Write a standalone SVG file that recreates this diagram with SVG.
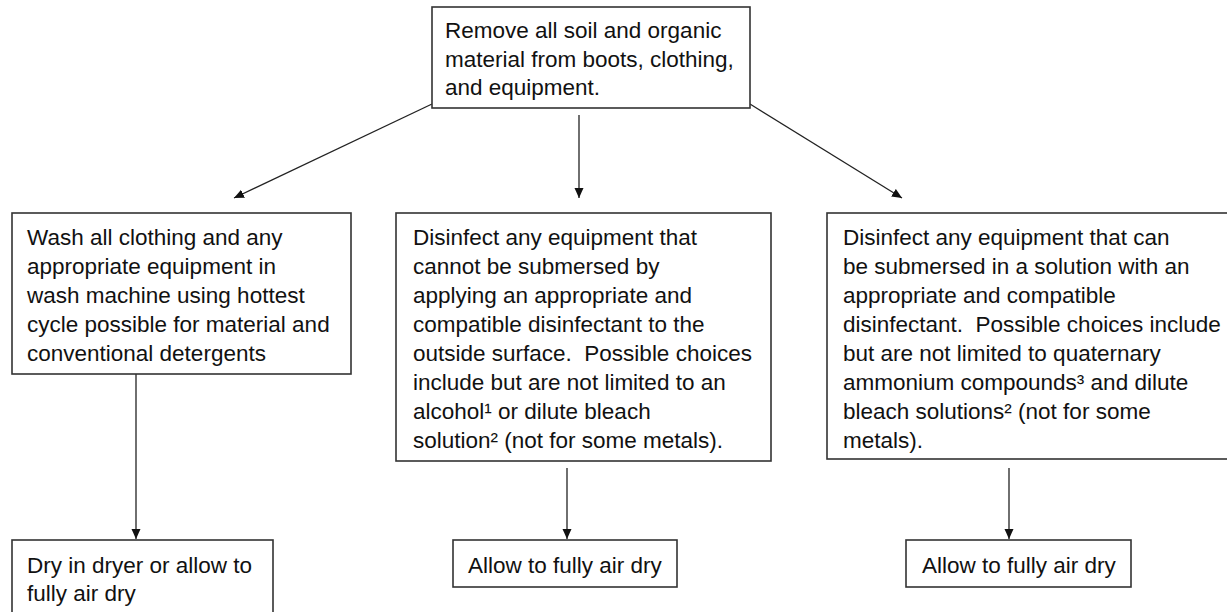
<svg xmlns="http://www.w3.org/2000/svg" width="1227" height="612" viewBox="0 0 1227 612">
<defs>
<marker id="ah" markerUnits="userSpaceOnUse" markerWidth="10" markerHeight="10" viewBox="0 0 10 10" refX="10" refY="5" orient="auto">
<path d="M0,0.5 L10,5 L0,9.5 Z" fill="#111"/>
</marker>
<style>
.box{fill:#fff;stroke:#333;stroke-width:1.6}
.t{font-family:"Liberation Sans",Arial,sans-serif;font-size:22.5px;fill:#111;white-space:pre}
.c{stroke:#222;stroke-width:1.3;fill:none;marker-end:url(#ah)}
</style>
</defs>
<rect width="1227" height="612" fill="#fff"/>
<g id="connectors">
<line class="c" x1="432" y1="104" x2="234" y2="198"/>
<line class="c" x1="579" y1="115" x2="579" y2="198"/>
<line class="c" x1="750" y1="104" x2="902" y2="198"/>
<line class="c" x1="136" y1="374" x2="136" y2="539"/>
<line class="c" x1="567" y1="468" x2="567" y2="539"/>
<line class="c" x1="1009" y1="468" x2="1009" y2="539"/>
</g>
<g id="n-remove">
<rect class="box" x="432" y="7" width="318" height="101"/>
<text class="t" x="445" y="38">Remove all soil and organic</text>
<text class="t" x="445" y="66.5">material from boots, clothing,</text>
<text class="t" x="445" y="95">and equipment.</text>
</g>
<g id="n-wash">
<rect class="box" x="12" y="213" width="339" height="161"/>
<text class="t" x="27" y="245">Wash all clothing and any</text>
<text class="t" x="27" y="274">appropriate equipment in</text>
<text class="t" x="27" y="303">wash machine using hottest</text>
<text class="t" x="27" y="332">cycle possible for material and</text>
<text class="t" x="27" y="361">conventional detergents</text>
</g>
<g id="n-surface">
<rect class="box" x="396" y="213" width="375" height="248"/>
<text class="t" x="413" y="245">Disinfect any equipment that</text>
<text class="t" x="413" y="274">cannot be submersed by</text>
<text class="t" x="413" y="303">applying an appropriate and</text>
<text class="t" x="413" y="332">compatible disinfectant to the</text>
<text class="t" x="413" y="361">outside surface.  Possible choices</text>
<text class="t" x="413" y="390">include but are not limited to an</text>
<text class="t" x="413" y="419">alcohol¹ or dilute bleach</text>
<text class="t" x="413" y="448">solution² (not for some metals).</text>
</g>
<g id="n-submerse">
<rect class="box" x="827" y="213" width="420" height="246"/>
<text class="t" x="843" y="245">Disinfect any equipment that can</text>
<text class="t" x="843" y="274">be submersed in a solution with an</text>
<text class="t" x="843" y="303">appropriate and compatible</text>
<text class="t" x="843" y="332">disinfectant.  Possible choices include</text>
<text class="t" x="843" y="361">but are not limited to quaternary</text>
<text class="t" x="843" y="390">ammonium compounds³ and dilute</text>
<text class="t" x="843" y="419">bleach solutions² (not for some</text>
<text class="t" x="843" y="448">metals).</text>
</g>
<g id="n-dry1">
<rect class="box" x="12" y="540" width="261" height="90"/>
<text class="t" x="27" y="573">Dry in dryer or allow to</text>
<text class="t" x="27" y="601">fully air dry</text>
</g>
<g id="n-dry2">
<rect class="box" x="453" y="540" width="224" height="47"/>
<text class="t" x="468" y="573">Allow to fully air dry</text>
</g>
<g id="n-dry3">
<rect class="box" x="906" y="540" width="225" height="47"/>
<text class="t" x="922" y="573">Allow to fully air dry</text>
</g>
</svg>
